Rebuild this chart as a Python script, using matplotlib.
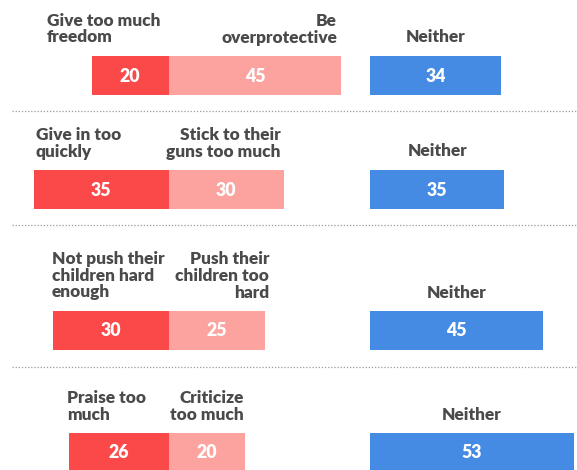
import matplotlib.pyplot as plt

# survey answers, one row per question
left_labels = ["Give too much\nfreedom", "Give in too\nquickly",
               "Not push their\nchildren hard\nenough", "Praise too\nmuch"]
mid_labels = ["Be\noverprotective", "Stick to their\nguns too much",
              "Push their\nchildren too\nhard", "Criticize\ntoo much"]
neither_label = "Neither"
left_vals = [20, 35, 30, 26]
mid_vals = [45, 30, 25, 20]
neither_vals = [34, 35, 45, 53]

RED = "#fb4848"
PINK = "#fca3a0"
BLUE = "#458be3"
TXT = "#4a4a4a"

# layout (pixels)
W, H = 577, 470
zero_px = 168.5
px_per_unit = 3.84
neither_start = 52.5            # in percent units right of zero
bar_tops = [56, 170, 311, 433]
bar_h = 39
label_gap = 10.5
left_label_px = [47, 36, 52, 67]
mid_label_px = [337, 281, 269, 244]
sep_y = [111, 225, 367]

plt.rcParams['font.family'] = ['Lato', 'DejaVu Sans']
FW = "heavy"
FS = 12.4
LS = 1.07

fig = plt.figure(figsize=(W / 100, H / 100), dpi=100)
ax = fig.add_axes([0, 0, 1, 1])
ax.set_xlim(-zero_px / px_per_unit, (W - zero_px) / px_per_unit)
ax.set_ylim(H, 0)
ax.axis("off")


def px2x(px):
    return (px - zero_px) / px_per_unit


for i in range(len(left_vals)):
    yc = bar_tops[i] + bar_h / 2
    lv, mv, nv = left_vals[i], mid_vals[i], neither_vals[i]
    ax.barh(yc, lv, left=-lv, height=bar_h, color=RED, linewidth=0)
    ax.barh(yc, mv, left=0, height=bar_h, color=PINK, linewidth=0)
    ax.barh(yc, nv, left=neither_start, height=bar_h, color=BLUE, linewidth=0)

    for xc, v in [(-lv / 2, lv), (mv / 2, mv), (neither_start + nv / 2, nv)]:
        ax.text(xc, yc + 0.5, str(v), color="white", fontsize=12.8, fontweight=FW,
                ha="center", va="center")

    ty = bar_tops[i] - label_gap
    ax.text(px2x(left_label_px[i]), ty, left_labels[i], color=TXT, fontsize=FS,
            fontweight=FW, ha="left", va="bottom", linespacing=LS)
    ax.text(px2x(mid_label_px[i]), ty, mid_labels[i], color=TXT, fontsize=FS,
            fontweight=FW, ha="right", va="bottom", linespacing=LS,
            multialignment="right")
    ax.text(neither_start + nv / 2, ty, neither_label, color=TXT, fontsize=FS,
            fontweight=FW, ha="center", va="bottom")

for y in sep_y:
    ax.plot([px2x(12), px2x(W)], [y, y], color="#9a9a9a", linestyle=(0, (1, 1.5)),
            linewidth=0.9)

fig.savefig("out.png", dpi=100)
